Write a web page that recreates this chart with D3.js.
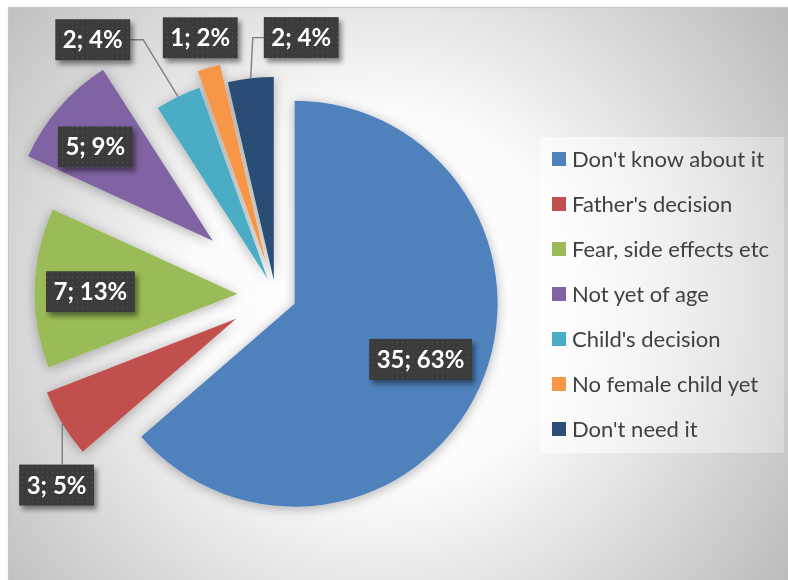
<!DOCTYPE html>
<html><head><meta charset="utf-8">
<script src="https://cdn.jsdelivr.net/npm/d3@7"></script>
<style>body{margin:0;background:#fff}svg{display:block}</style>
</head><body><svg id="chart" width="788" height="580"></svg>
<script>
// ---- data ----
const categories = ["Don't know about it","Father's decision","Fear, side effects etc","Not yet of age","Child's decision","No female child yet","Don't need it"];
const values = [35, 3, 7, 5, 2, 1, 2];
const percentLabels = ["63%", "5%", "13%", "9%", "4%", "2%", "4%"];

// ---- style / layout ----
const colors = ["#4F81BD","#C0504D","#9BBB59","#8064A2","#4BACC6","#F79646","#2C4D75"];
const explode = [21, 46, 38, 83, 18, 34, 15];          // per-point explosion (px)
const labelInside = [true, false, true, true, false, false, false];
const labelNudge = [[-7,-5],[20,46],[-1,2],[-7,2],[-72,-30],[0,-1],[54,-11]];

const W = 788, H = 580;
const cx = 275.5, cy = 295, R = 203;
const svg = d3.select("#chart");
const defs = svg.append("defs");

// background gradient
const bg = defs.append("radialGradient").attr("id","bg")
  .attr("gradientUnits","userSpaceOnUse").attr("cx",380).attr("cy",300).attr("r",500);
bg.append("stop").attr("offset",0).attr("stop-color","#ffffff");
bg.append("stop").attr("offset",0.38).attr("stop-color","#fbfbfb");
bg.append("stop").attr("offset",1).attr("stop-color","#bababa");

const legBg = defs.append("linearGradient").attr("id","legbg").attr("x1",0).attr("x2",1).attr("y1",0).attr("y2",0);
legBg.append("stop").attr("offset",0).attr("stop-color","#ffffff").attr("stop-opacity",0.6);
legBg.append("stop").attr("offset",1).attr("stop-color","#ffffff").attr("stop-opacity",0.3);

// pie shadow
const sh = defs.append("filter").attr("id","pieShadow").attr("x","-30%").attr("y","-30%").attr("width","160%").attr("height","160%");
sh.append("feGaussianBlur").attr("in","SourceAlpha").attr("stdDeviation",6).attr("result","b");
sh.append("feOffset").attr("in","b").attr("dx",0).attr("dy",2).attr("result","o");
sh.append("feComponentTransfer").attr("in","o").attr("result","s")
  .append("feFuncA").attr("type","linear").attr("slope",0.3);
const m = sh.append("feMerge"); m.append("feMergeNode").attr("in","s"); m.append("feMergeNode").attr("in","SourceGraphic");

// label shadow
const ls = defs.append("filter").attr("id","lblShadow").attr("x","-30%").attr("y","-40%").attr("width","160%").attr("height","180%");
ls.append("feDropShadow").attr("dx",3).attr("dy",4).attr("stdDeviation",2.5).attr("flood-color","#000").attr("flood-opacity",0.45);

// dotted pattern for label boxes
const pat = defs.append("pattern").attr("id","dots").attr("patternUnits","userSpaceOnUse").attr("width",5).attr("height",5);
pat.append("rect").attr("width",5).attr("height",5).attr("fill","#3a3a3a");
pat.append("rect").attr("x",2).attr("y",2).attr("width",1).attr("height",1).attr("fill","#575757");

// chart area
svg.append("rect").attr("x",8.5).attr("y",7.5).attr("width",W).attr("height",H).attr("fill","url(#bg)")
  .attr("stroke","#c6c6c6").attr("stroke-width",1.2);

// pie
const pie = d3.pie().sort(null).value(d => d).startAngle(0).endAngle(2*Math.PI);
const arcs = pie(values);
const arc = d3.arc().innerRadius(0).outerRadius(R);
const dir = a => [Math.sin(a), -Math.cos(a)];

const info = arcs.map((a,i) => {
  const mid = (a.startAngle + a.endAngle)/2;
  const [dx,dy] = dir(mid);
  const vx = cx + explode[i]*dx, vy = cy + explode[i]*dy;
  const M = [vx + R*dx, vy + R*dy];
  let ax, ay;
  if (labelInside[i]) { ax = vx + 0.72*R*dx; ay = vy + 0.72*R*dy; }
  else { ax = M[0] + 30*dx; ay = M[1] + 30*dy; }
  return {a, i, vx, vy, M, lx: ax + labelNudge[i][0], ly: ay + labelNudge[i][1]};
});

const gPie = svg.append("g").attr("filter","url(#pieShadow)");
gPie.selectAll("path").data(info).join("path")
  .attr("transform", d => `translate(${d.vx},${d.vy})`)
  .attr("d", d => arc(d.a))
  .attr("fill", d => colors[d.i]);

// labels
const fontLbl = "Lato, 'Open Sans', sans-serif";
const gLines = svg.append("g");
const gLbl = svg.append("g");
info.forEach(d => {
  const g = gLbl.append("g");
  const t = g.append("text")
    .attr("x", d.lx).attr("y", d.ly + 8.5)
    .attr("text-anchor","middle")
    .attr("font-family", fontLbl).attr("font-weight", 700).attr("font-size", 24)
    .attr("fill","#fff")
    .text(`${values[d.i]}; ${percentLabels[d.i]}`);
  const tw = t.node().getComputedTextLength();
  const bw = tw + 15, bh = 41;
  const bx = d.lx - bw/2, by = d.ly - bh/2;
  g.insert("rect","text").attr("x",bx).attr("y",by).attr("width",bw).attr("height",bh)
    .attr("fill","url(#dots)").attr("filter","url(#lblShadow)");
  // leader line
  if (!labelInside[d.i]) {
    const [mx,my] = d.M;
    let pts = null;
    if (mx >= bx && mx <= bx+bw) {
      const gap = my > by+bh ? my-(by+bh) : by-my;
      if (gap > 15) pts = [[mx,my],[mx, my > by+bh ? by+bh : by]];
    } else if (mx < bx) {
      if (bx - mx > 8) pts = [[mx,my],[bx-11,d.ly],[bx,d.ly]];
    } else {
      if (mx - (bx+bw) > 8) pts = [[mx,my],[bx+bw+13,d.ly],[bx+bw,d.ly]];
    }
    if (pts) gLines.append("path").attr("d", d3.line()(pts))
      .attr("fill","none").attr("stroke","#7f7f7f").attr("stroke-width",1.4);
  }
});

// legend
const lg = svg.append("g");
lg.append("rect").attr("x",540).attr("y",137).attr("width",244).attr("height",316).attr("fill","url(#legbg)");
const rowY = d3.scalePoint().domain(d3.range(categories.length)).range([159, 429]);
categories.forEach((c,i) => {
  lg.append("rect").attr("x",552).attr("y",rowY(i)-7).attr("width",14).attr("height",14).attr("fill",colors[i]);
  lg.append("text").attr("x",572).attr("y",rowY(i)+7.5)
    .attr("font-family","Lato, 'Open Sans', sans-serif").attr("font-size",22).attr("fill","#404040")
    .text(c);
});
</script></body></html>
